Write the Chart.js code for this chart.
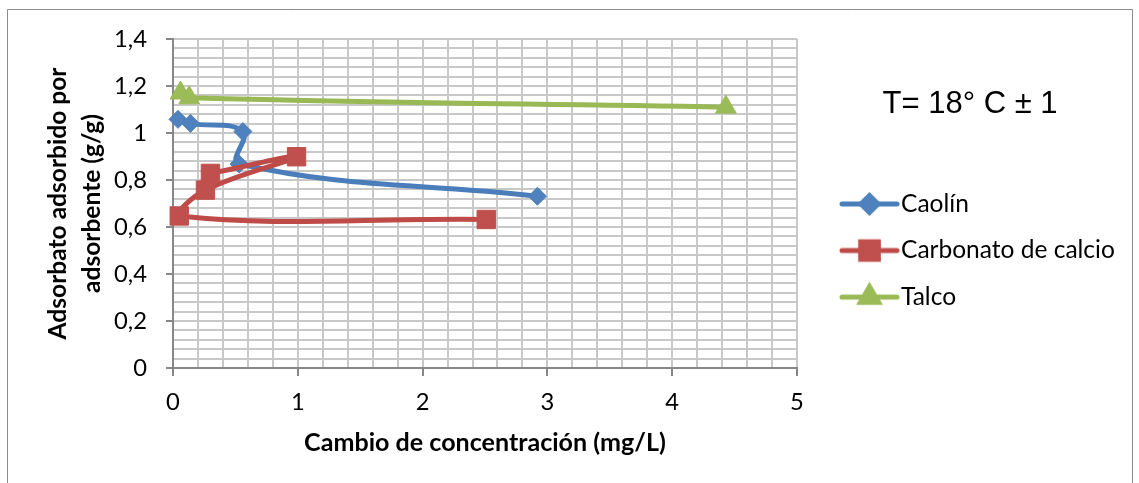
<!DOCTYPE html>
<html>
<head>
<meta charset="utf-8">
<script src="https://cdn.jsdelivr.net/npm/chart.js@4.4.1/dist/chart.umd.min.js"></script>
<style>
html,body{margin:0;padding:0;background:#fff;}
#wrap{width:1139px;height:483px;position:relative;}
</style>
</head>
<body>
<div id="wrap"><canvas id="c" width="1139" height="483"></canvas></div>
<script>
// ---- data ----
const seriesNames = ['Caolín', 'Carbonato de calcio', 'Talco'];
const caolinX = [0.04, 0.14, 0.56, 0.53, 2.92];
const caolinY = [1.058, 1.041, 1.006, 0.868, 0.731];
const carbonatoX = [0.30, 0.99, 0.26, 0.05, 2.51];
const carbonatoY = [0.828, 0.899, 0.757, 0.647, 0.632];
const talcoX = [0.06, 0.13, 4.43];
const talcoY = [1.170, 1.150, 1.110];
const xTickLabels = ['0', '1', '2', '3', '4', '5'];
const yTickLabels = ['0', '0,2', '0,4', '0,6', '0,8', '1', '1,2', '1,4'];
const xTitle = 'Cambio de concentración (mg/L)';
const yTitle = ['Adsorbato adsorbido por', 'adsorbente (g/g)'];
const noteText = 'T= 18° C ± 1';

// ---- styling ----
const FAM = 'Lato, "Open Sans", sans-serif';
const lineColors = ['#4A7EBB', '#BE4B48', '#98B954'];
const markColors = ['#4F81BD', '#C0504D', '#9BBB59'];
const markStyles = ['rectRot', 'rect', 'triangle'];
const markRadius = [9, 13, 12];
const legendMarkRadius = [8.5, 12.5, 10.5];
const GRID = '#c8c8c8';
const AXIS = '#878787';

const mctx = document.createElement('canvas').getContext('2d');
function textW(text, weight, size) {
  mctx.font = 'normal ' + weight + ' ' + size + 'px ' + FAM;
  return mctx.measureText(text).width;
}
function fitSize(text, weight, target) {
  return 100 * target / textW(text, weight, 100);
}
const tickSize = fitSize('1,4', 'normal', 33);
const legendSize = fitSize('Carbonato de calcio', 'normal', 214);
const xTitleSize = fitSize(xTitle, 'bold', 362);
const yTitleSize = fitSize(yTitle[0], 'bold', 272);

function pts(xs, ys) { return xs.map((x, i) => ({x: x, y: ys[i]})); }

// legend geometry (chart area right edge is 797)
const CHART_RIGHT = 797;
const LEG_PAD = Math.round(47 - legendSize);
const itemLeft = CHART_RIGHT + LEG_PAD;
const boxW = 901 - itemLeft - legendSize / 2;
const cX = itemLeft + boxW / 2;
const lineStart = 842, lineEnd = 897;
const half = Math.ceil(Math.max(cX - lineStart, lineEnd - cX)) + 3;
const maxText = Math.max(...seriesNames.map(n => textW(n, 'normal', legendSize)));
const legendWidth = LEG_PAD + boxW + legendSize / 2 + maxText + 10;
const padRight = Math.max(0, 1139 - CHART_RIGHT - legendWidth);

function legendImage(i) {
  const cv = document.createElement('canvas');
  cv.width = half * 2; cv.height = 30;
  const g = cv.getContext('2d');
  const off = cX - half;
  g.strokeStyle = lineColors[i];
  g.lineWidth = 5;
  g.lineCap = 'round';
  g.beginPath();
  g.moveTo(lineStart - off, 15);
  g.lineTo(lineEnd - off, 15);
  g.stroke();
  g.fillStyle = markColors[i];
  g.strokeStyle = markColors[i];
  Chart.helpers.drawPoint(g, {pointStyle: markStyles[i], radius: legendMarkRadius[i], rotation: 0, borderWidth: 1},
    (lineStart + lineEnd) / 2 - off, 15);
  return cv;
}

const seriesX = [caolinX, carbonatoX, talcoX];
const seriesY = [caolinY, carbonatoY, talcoY];
const datasets = seriesNames.map((name, i) => ({
  label: name,
  data: pts(seriesX[i], seriesY[i]),
  showLine: true,
  tension: 0.42,
  borderColor: lineColors[i],
  borderWidth: 5,
  backgroundColor: markColors[i],
  pointStyle: markStyles[i],
  pointRadius: markRadius[i],
  pointHoverRadius: markRadius[i],
  pointBackgroundColor: markColors[i],
  pointBorderColor: markColors[i],
  pointBorderWidth: 1,
  clip: false,
  order: 2 - i
}));

const frame = {
  id: 'frame',
  beforeDraw(chart) {
    const g = chart.ctx;
    g.save();
    g.fillStyle = '#fff';
    g.fillRect(0, 0, chart.width, chart.height);
    g.strokeStyle = '#8c8c8c';
    g.lineWidth = 1;
    g.beginPath();
    g.moveTo(7.5, 490); g.lineTo(7.5, 9.5); g.lineTo(1132.5, 9.5); g.lineTo(1132.5, 490);
    g.stroke();
    g.restore();
  },
  afterDraw(chart) {
    const g = chart.ctx;
    g.save();
    g.fillStyle = '#000';
    g.font = '31px "Liberation Sans", Arial, sans-serif';
    g.textAlign = 'center';
    g.textBaseline = 'alphabetic';
    g.fillText(noteText, 970, 113);
    g.restore();
  }
};

const isMajorY = v => Math.abs(v / 0.2 - Math.round(v / 0.2)) < 1e-6;
const isMajorX = v => Math.abs(v - Math.round(v)) < 1e-6;

new Chart(document.getElementById('c'), {
  type: 'scatter',
  data: {datasets: datasets},
  options: {
    responsive: false,
    animation: false,
    devicePixelRatio: 1,
    layout: {padding: {left: 0, right: padRight, top: 39, bottom: 0}},
    plugins: {
      tooltip: {enabled: false},
      legend: {
        position: 'right',
        align: 'start',
        maxWidth: 2000,
        title: {display: true, text: ' ', font: {size: 10, lineHeight: '29px'}, padding: {top: 204 - 39 - 29 - LEG_PAD - legendSize / 2, bottom: 0}},
        labels: {
          usePointStyle: true,
          pointStyleWidth: boxW,
          padding: LEG_PAD,
          color: '#000',
          font: {family: FAM, size: legendSize, lineHeight: 1},
          generateLabels(chart) {
            return chart.data.datasets.map((ds, i) => ({
              text: ds.label,
              pointStyle: legendImage(i),
              fillStyle: markColors[i],
              strokeStyle: markColors[i],
              lineWidth: 0,
              hidden: false,
              datasetIndex: i,
              fontColor: '#000'
            }));
          }
        }
      }
    },
    scales: {
      x: {
        type: 'linear',
        min: 0, max: 5,
        afterFit(s) { s.height = 115; },
        ticks: {
          stepSize: 0.2, autoSkip: false, maxRotation: 0, color: '#000',
          padding: 26 - tickSize * 0.6,
          font: {family: FAM, size: tickSize, lineHeight: 1.2},
          callback(v) { return isMajorX(v) ? xTickLabels[Math.round(v)] : ''; }
        },
        grid: {
          color: GRID, lineWidth: 2, tickLength: 8, tickWidth: 2,
          tickColor: ctx => (ctx.tick && isMajorX(ctx.tick.value)) ? AXIS : 'rgba(0,0,0,0)'
        },
        border: {color: AXIS, width: 2},
        title: {
          display: true, text: xTitle, color: '#000',
          font: {family: FAM, size: xTitleSize, weight: 'bold', lineHeight: 1.2},
          padding: {top: 0, bottom: 40 - xTitleSize * 0.6}
        }
      },
      y: {
        type: 'linear',
        min: 0, max: 1.4,
        afterFit(s) { s.width = 173; },
        ticks: {
          stepSize: 0.04, autoSkip: false, color: '#000',
          padding: 19,
          font: {family: FAM, size: tickSize},
          callback(v) { return isMajorY(v) ? yTickLabels[Math.round(v / 0.2)] : ''; }
        },
        grid: {
          color: GRID, lineWidth: 2, tickLength: 7, tickWidth: 2,
          tickColor: ctx => (ctx.tick && isMajorY(ctx.tick.value)) ? AXIS : 'rgba(0,0,0,0)'
        },
        border: {color: AXIS, width: 2},
        title: {
          display: true, text: yTitle, color: '#000',
          font: {family: FAM, size: yTitleSize, weight: 'bold', lineHeight: '34px'},
          padding: {top: 41, bottom: 0}
        }
      }
    }
  },
  plugins: [frame]
});
</script>
</body>
</html>
